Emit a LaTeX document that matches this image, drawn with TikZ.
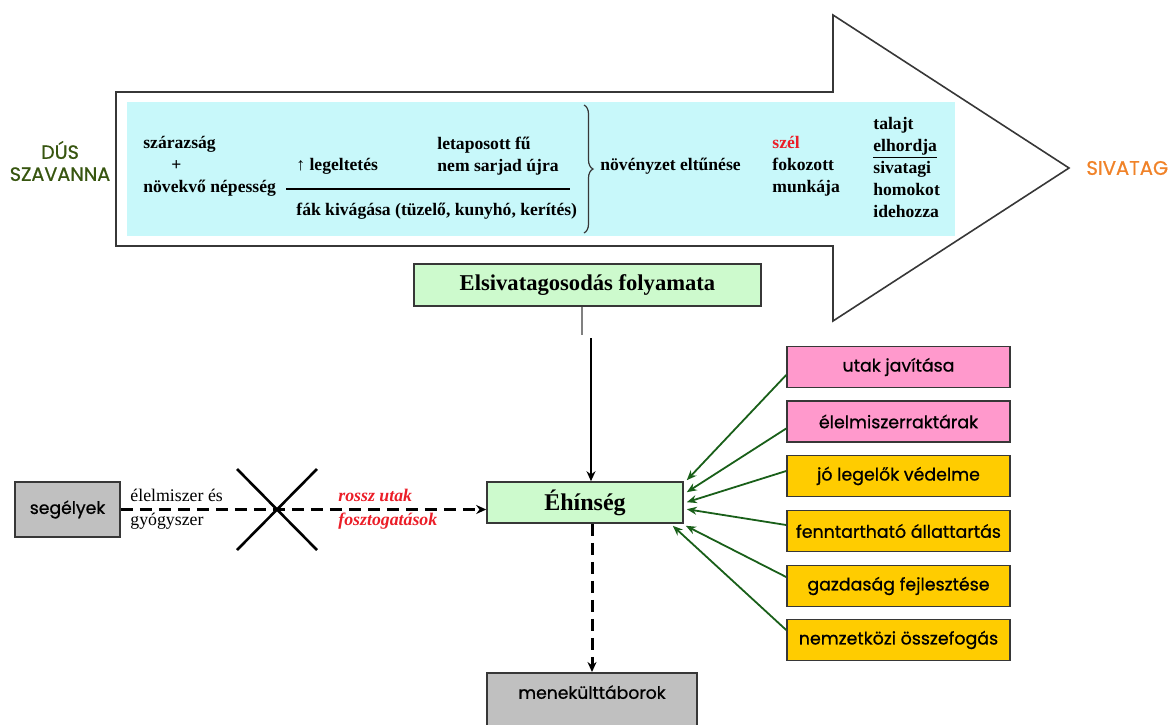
\documentclass[tikz,border=0pt]{standalone}
\usepackage{fontspec}
\setmainfont{Liberation Serif}
\newfontfamily\comic{Poppins}[FakeBold=0.8]
\usetikzlibrary{arrows.meta,decorations.pathreplacing,calc}

\definecolor{olivegreen}{RGB}{55,85,15}
\definecolor{desertorange}{RGB}{240,130,40}
\definecolor{palecyan}{RGB}{200,248,250}
\definecolor{palegreen}{RGB}{205,250,205}
\definecolor{boxgray}{RGB}{192,192,192}
\definecolor{boxpink}{RGB}{255,153,204}
\definecolor{boxgold}{RGB}{255,204,0}
\definecolor{arrowgreen}{RGB}{25,95,25}
\definecolor{alertred}{RGB}{235,30,40}
\definecolor{edgegray}{RGB}{55,55,55}

\tikzset{
  toptext/.style={font=\fontsize{8.8}{11}\selectfont\bfseries, inner sep=0pt, anchor=west, align=left},
  plainbox/.style={draw=edgegray, line width=0.8pt, inner sep=0pt},
  greenbox/.style={plainbox, fill=palegreen, font=\bfseries},
  graybox/.style={plainbox, fill=boxgray, font=\comic\fontsize{8.6}{10}\selectfont},
  sidebox/.style={plainbox, minimum width=111.5pt, minimum height=20.5pt, font=\comic\fontsize{8.7}{10}\selectfont},
  pinkbox/.style={sidebox, fill=boxpink},
  goldbox/.style={sidebox, fill=boxgold},
  greenarrow/.style={draw=arrowgreen, line width=0.9pt, -{Stealth[length=5pt,width=4pt]}},
  dasharrow/.style={line width=1.5pt, dash pattern=on 6pt off 3.5pt, -{Stealth[length=5pt,width=4.5pt]}},
  solidarrow/.style={line width=0.9pt, -{Stealth[length=5pt,width=4.5pt]}},
}

\begin{document}
\begin{tikzpicture}[x=0.5pt,y=-0.5pt]
\useasboundingbox (0,0) rectangle (1169,724);
\clip (0,0) rectangle (1169,724);

% the big process arrow
\draw[edgegray, line width=0.8pt, line join=miter]
  (116,92) -- (833,92) -- (833,15) -- (1069,168) -- (833,321) -- (833,246) -- (116,246) -- cycle;
\fill[palecyan] (127,102) rectangle (955,236);

% end labels of the arrow
\node[font=\comic\fontsize{9.6}{11}\selectfont, text=olivegreen, align=center, inner sep=0pt] (savanna) at (60,161) {DÚS\\SZAVANNA};
\node[font=\comic\fontsize{9.8}{11}\selectfont, text=desertorange, anchor=west, inner sep=0pt] (desert) at (1086,168) {SIVATAG};

% causes inside the arrow
\node[toptext] (dry) at (143,166) {szárazság\\\hspace*{14pt}+\\növekvő népesség};
\node[toptext] (graze) at (296,166) {↑ legeltetés};
\node[toptext] (grass) at (437,156) {letaposott fű\\nem sarjad újra};
\coordinate (barL) at (286,189);
\coordinate (barR) at (570,189);
\draw[line width=0.7pt] (barL) -- (barR);
\node[toptext] (trees) at (296,211) {fák kivágása (tüzelő, kunyhó, kerítés)};
\coordinate (braceT) at (584,105);
\coordinate (braceB) at (584,233);
\draw[edgegray, line width=0.6pt, decorate, decoration={brace, amplitude=4.5pt}] (braceT) -- (braceB);
\node[toptext] (veg) at (600,166) {növényzet eltűnése};
\node[toptext] (wind) at (772,166) {\textcolor{alertred}{szél}\\fokozott\\munkája};
\node[toptext] (soil) at (873,167) {talajt\\\underline{elhordja}\\sivatagi\\homokot\\idehozza};

% central chain
\node[greenbox, minimum width=173.5pt, minimum height=21pt, font=\fontsize{11.3}{13}\selectfont\bfseries] (proc) at (587.5,285) {Elsivatagosodás folyamata};
\node[greenbox, minimum width=98pt, minimum height=20.5pt, font=\fontsize{12}{14}\selectfont\bfseries] (eh) at (585,502.5) {Éhínség};
\node[graybox, anchor=north, minimum width=105pt, inner ysep=6pt, text height=7pt, text depth=17pt] (camp) at (592,672) {menekülttáborok};

\coordinate (stubend) at (582,335);
\draw[gray, line width=1pt] (stubend |- proc.south) -- (stubend);
\coordinate (vtop) at (591,338);
\draw[solidarrow] (vtop) -- (vtop |- eh.north);
\draw[dasharrow] (camp.north |- eh.south) -- (camp.north);

% aid that does not arrive
\node[graybox, minimum width=52.5pt, minimum height=27.5pt] (aid) at (67.5,509.5) {segélyek};
\draw[dasharrow] (aid.east) -- (aid.east -| eh.west);
\node[font=\fontsize{8.9}{12}\selectfont, anchor=west, align=left, inner sep=0pt] (food) at (130,509) {élelmiszer és\\gyógyszer};
\node[font=\fontsize{8.9}{12}\selectfont\bfseries\itshape, text=alertred, anchor=west, align=left, inner sep=0pt] (roads) at (338,509) {rossz utak\\fosztogatások};
\coordinate (xa) at (237,469);
\coordinate (xb) at (317,550);
\draw[line width=1.3pt] (xa) -- (xb) (xa -| xb) -- (xb -| xa);

% remedies
\node[pinkbox] (b1) at (898.5,367) {utak javítása};
\node[pinkbox] (b2) at (898.5,421.5) {élelmiszerraktárak};
\node[goldbox] (b3) at (898.5,476) {jó legelők védelme};
\node[goldbox] (b4) at (898.5,531) {fenntartható állattartás};
\node[goldbox] (b5) at (898.5,586) {gazdaság fejlesztése};
\node[goldbox] (b6) at (898.5,640) {nemzetközi összefogás};

\coordinate (t1) at ($(eh.north east)+(3,-1)$);
\coordinate (t2) at ($(eh.north east)+(3,11)$);
\coordinate (t3) at ($(eh.north east)+(3,21)$);
\coordinate (t4) at ($(eh.north east)+(3,28)$);
\coordinate (t5) at ($(eh.south east)+(2,2)$);
\coordinate (t6) at ($(eh.south east)+(-11,2)$);
\draw[greenarrow] ($(b1.west)+(0,8)$) -- (t1);
\draw[greenarrow] ($(b2.west)+(0,7)$) -- (t2);
\draw[greenarrow] ($(b3.west)+(0,-5)$) -- (t3);
\draw[greenarrow] ($(b4.west)+(0,-6)$) -- (t4);
\draw[greenarrow] ($(b5.west)+(0,-9)$) -- (t5);
\draw[greenarrow] ($(b6.west)+(0,-10)$) -- (t6);
\end{tikzpicture}
\end{document}
